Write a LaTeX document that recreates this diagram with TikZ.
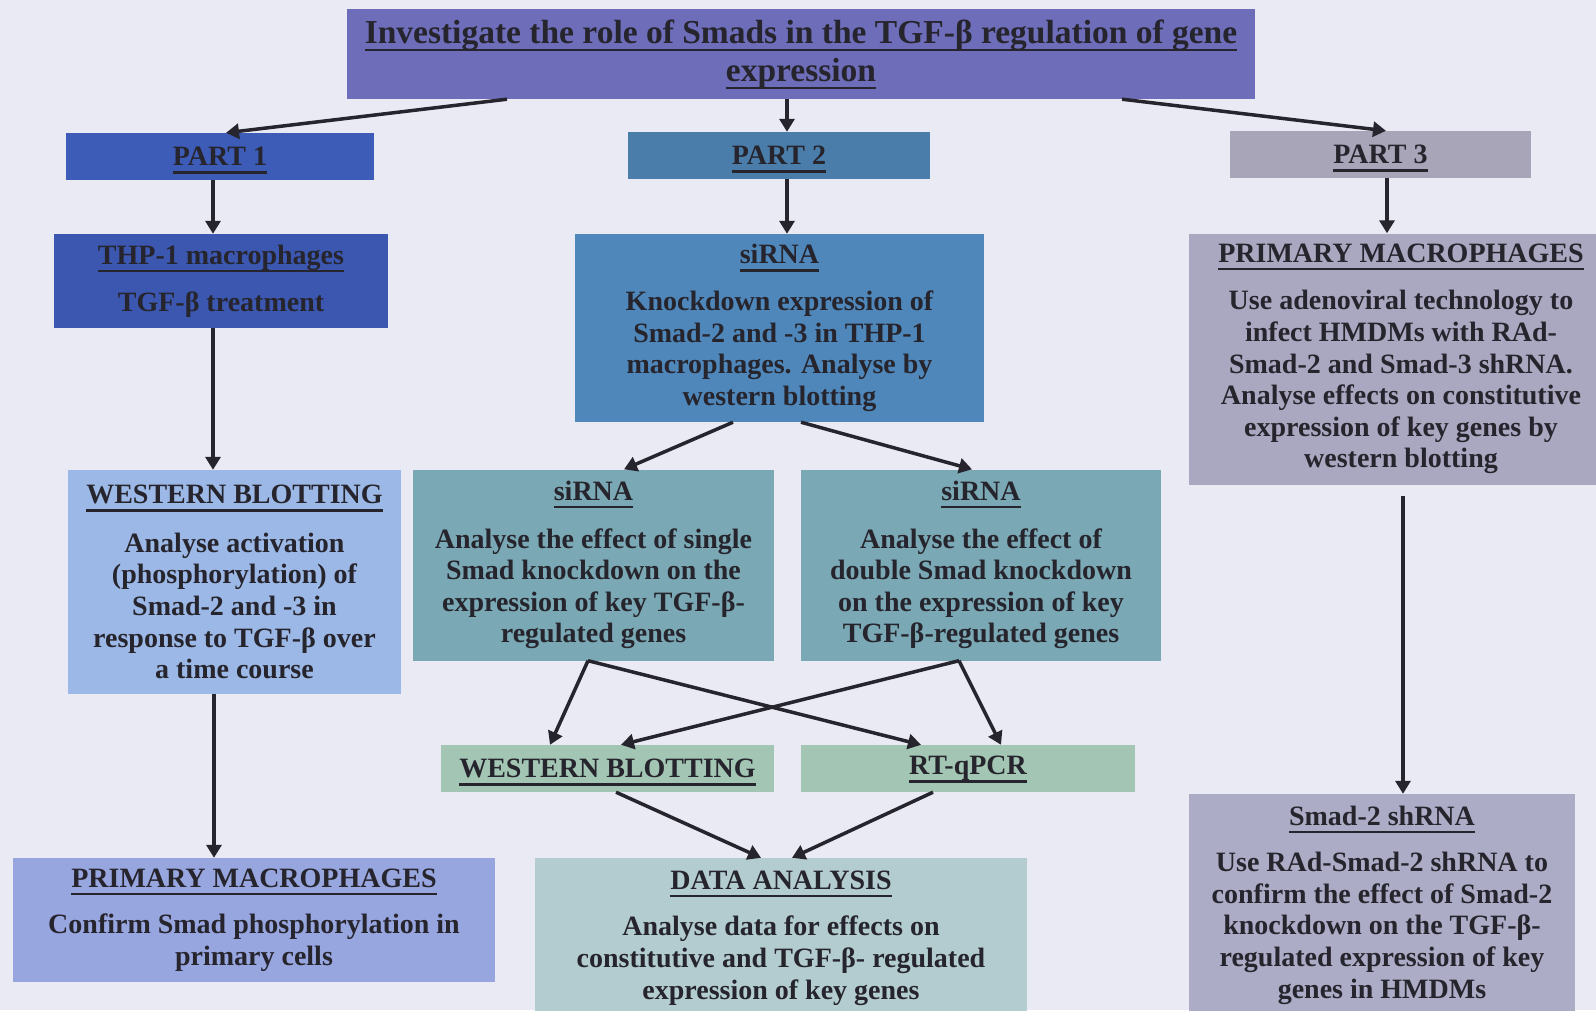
\documentclass[tikz,border=0pt]{standalone}
\usepackage{fontspec}
\setmainfont{Liberation Serif}
\usetikzlibrary{arrows.meta}
\definecolor{bg}{RGB}{234,234,245}
\definecolor{txt}{RGB}{38,36,44}
\definecolor{ctop}{RGB}{109,109,185}
\definecolor{cpa}{RGB}{61,92,184}
\definecolor{cthp}{RGB}{59,87,176}
\definecolor{cpb}{RGB}{74,125,170}
\definecolor{csir}{RGB}{79,135,187}
\definecolor{cpc}{RGB}{168,165,184}
\definecolor{cpprim}{RGB}{170,168,192}
\definecolor{cwbl}{RGB}{156,184,230}
\definecolor{cprim}{RGB}{152,166,224}
\definecolor{csd}{RGB}{122,168,180}
\definecolor{cwbb}{RGB}{163,198,180}
\definecolor{cdata}{RGB}{179,204,207}
\definecolor{csh}{RGB}{172,172,198}
\newcommand{\hdr}[1]{\leavevmode\setbox0=\hbox{#1}\rlap{\smash{\vrule height -5.5pt depth 8pt width \wd0}}\box0}
\begin{document}
\begin{tikzpicture}[x=1pt,y=-1pt,
  box/.style={rectangle, inner sep=0pt, align=center, text=txt,
    font=\fontsize{28}{31.6}\selectfont\bfseries},
  arr/.style={draw=txt, line width=3.5pt, -{Triangle[length=13pt,width=15pt]}}]
\useasboundingbox (0,0) rectangle (1596,1010);
\clip (0,0) rectangle (1596,1010);
\fill[bg] (0,0) rectangle (1596,1010);

\node[box, fill=ctop, minimum width=908pt, minimum height=90pt,
  font=\fontsize{33.5}{37.7}\selectfont\bfseries] (top) at (801,54)
  {\hdr{Investigate the role of Smads in the TGF-β regulation of gene}\\\hdr{expression}};

\node[box, fill=cpa, minimum width=308pt, minimum height=47pt] (p1) at (220,156.5) {\hdr{PART 1}};
\node[box, fill=cpb, minimum width=302pt, minimum height=47pt] (p2) at (779,155.5) {\hdr{PART 2}};
\node[box, fill=cpc, minimum width=301pt, minimum height=47pt] (p3) at (1380.5,154.5) {\hdr{PART 3}};

\node[box, fill=cthp, minimum width=334pt, minimum height=94pt] (thp) at (221,281)
  {\hdr{THP-1 macrophages}\\[15pt]TGF-β treatment};

\node[box, fill=csir, minimum width=409pt, minimum height=188pt] (sir) at (779.5,328)
  {\hdr{siRNA}\\[15pt]Knockdown expression of\\Smad-2 and -3 in THP-1\\macrophages. Analyse by\\western blotting};

\node[box, fill=cpprim, minimum width=424pt, minimum height=251pt] (pp) at (1401,359)
  {\hdr{PRIMARY MACROPHAGES}\\[16pt]Use adenoviral technology to\\infect HMDMs with RAd-\\Smad-2 and Smad-3 shRNA.\\Analyse effects on constitutive\\expression of key genes by\\western blotting};

\node[box, fill=cwbl, minimum width=333pt, minimum height=224pt] (wbl) at (234.5,582)
  {\hdr{WESTERN BLOTTING}\\[17pt]Analyse activation\\(phosphorylation) of\\Smad-2 and -3 in\\response to TGF-β over\\a time course};

\node[box, fill=csd, minimum width=361pt, minimum height=191pt] (sing) at (593.5,565)
  {\hdr{siRNA}\\[16pt]Analyse the effect of single\\Smad knockdown on the\\expression of key TGF-β-\\regulated genes};

\node[box, fill=csd, minimum width=360pt, minimum height=191pt] (doub) at (981,565)
  {\hdr{siRNA}\\[16pt]Analyse the effect of\\double Smad knockdown\\on the expression of key\\TGF-β-regulated genes};

\node[box, fill=cwbb, minimum width=333pt, minimum height=47pt] (wbb) at (607.5,768.5) {\hdr{WESTERN BLOTTING}};
\node[box, fill=cwbb, minimum width=334pt, minimum height=47pt] (rt) at (968,768.5) {\hdr{RT-qPCR}};

\node[box, fill=cprim, minimum width=482pt, minimum height=124pt] (prim) at (254,920)
  {\hdr{PRIMARY MACROPHAGES}\\[15pt]Confirm Smad phosphorylation in\\primary cells};

\node[box, fill=cdata, minimum width=492pt, minimum height=160pt] (data) at (781,938)
  {\hdr{DATA ANALYSIS}\\[15pt]Analyse data for effects on\\constitutive and TGF-β- regulated\\expression of key genes};

\node[box, fill=csh, minimum width=386pt, minimum height=222pt] (sh) at (1382,905)
  {\hdr{Smad-2 shRNA}\\[15pt]Use RAd-Smad-2 shRNA to\\confirm the effect of Smad-2\\knockdown on the TGF-β-\\regulated expression of key\\genes in HMDMs};

\draw[arr] ([xshift=-294pt]top.south) -- ([xshift=6pt]p1.north);
\draw[arr] ([xshift=-14pt]top.south) -- ([xshift=8pt]p2.north);
\draw[arr] ([xshift=321pt]top.south) -- ([xshift=5.5pt]p3.north);
\draw[arr] ([xshift=-7pt]p1.south) -- ([xshift=-8pt]thp.north);
\draw[arr] ([xshift=8pt]p2.south) -- ([xshift=7.5pt]sir.north);
\draw[arr] ([xshift=6.5pt]p3.south) -- ([xshift=-14pt]pp.north);
\draw[arr] ([xshift=-8pt]thp.south) -- ([xshift=-21.5pt]wbl.north);
\draw[arr] ([xshift=-20.5pt]wbl.south) -- ([xshift=-40pt]prim.north);
\draw[arr] ([xshift=-46.5pt]sir.south) -- ([xshift=30.5pt]sing.north);
\draw[arr] ([xshift=21.5pt]sir.south) -- ([xshift=-9pt]doub.north);
\draw[arr] ([xshift=-5.5pt]sing.south) -- ([xshift=-57.5pt]wbb.north);
\draw[arr] ([xshift=-5.5pt]sing.south) -- ([xshift=-47pt]rt.north);
\draw[arr] ([xshift=-22pt]doub.south) -- ([xshift=13.5pt]wbb.north);
\draw[arr] ([xshift=-22pt]doub.south) -- ([xshift=33pt]rt.north);
\draw[arr] ([xshift=8.5pt]wbb.south) -- ([xshift=-20pt]data.north);
\draw[arr] ([xshift=-35pt]rt.south) -- ([xshift=11pt]data.north);
\draw[arr] ([xshift=2pt,yshift=-11pt]pp.south) -- ([xshift=21pt]sh.north);
\end{tikzpicture}
\end{document}
